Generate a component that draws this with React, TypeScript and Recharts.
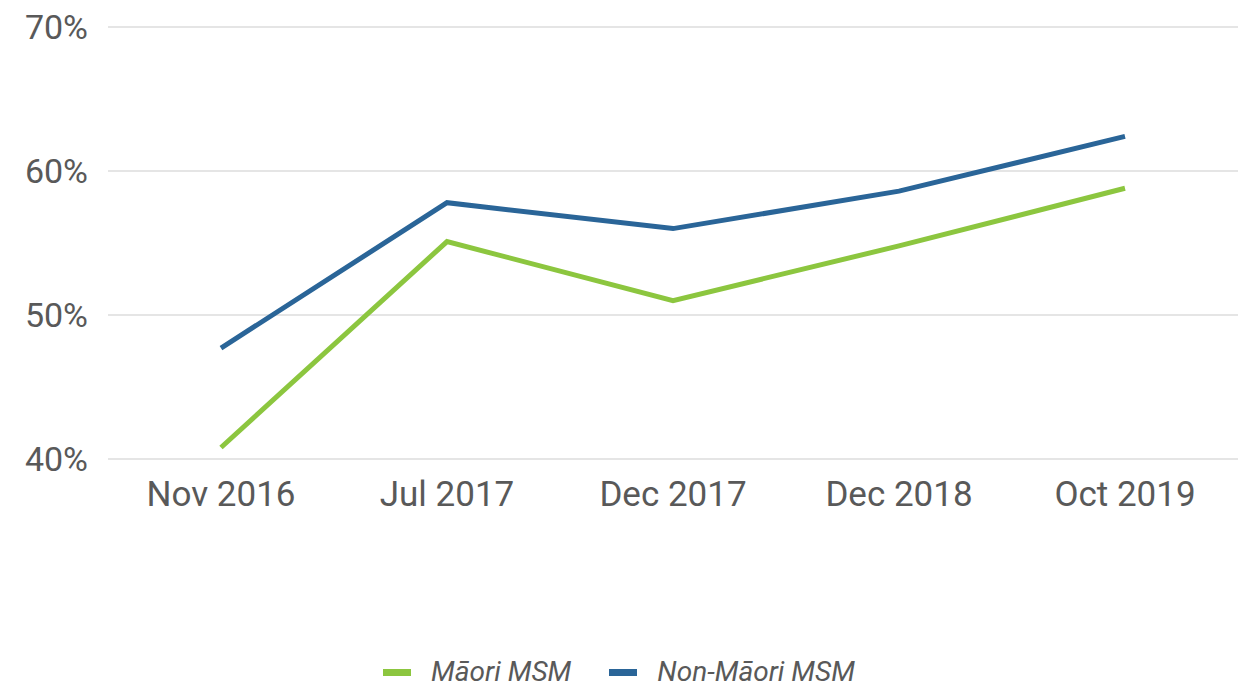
import { LineChart, Line, XAxis, YAxis, CartesianGrid, Legend } from 'recharts'

const periods = ['Nov 2016', 'Jul 2017', 'Dec 2017', 'Dec 2018', 'Oct 2019']
const maoriMsm = [40.8, 55.1, 51.0, 54.8, 58.8]
const nonMaoriMsm = [47.7, 57.8, 56.0, 58.6, 62.4]
const yTicks = [40, 50, 60, 70]

const data = periods.map((period, i) => ({
  period,
  maori: maoriMsm[i],
  nonMaori: nonMaoriMsm[i],
}))

const GREEN = '#8cc63f'
const BLUE = '#2a6598'
const TEXT = '#595959'

function LegendContent(props: any) {
  const items = props.payload || []
  return (
    <div
      style={{
        display: 'flex',
        justifyContent: 'center',
        alignItems: 'center',
        height: 26,
        lineHeight: '26px',
        fontFamily: 'Roboto',
        fontStyle: 'italic',
        fontSize: 28,
        color: TEXT,
      }}
    >
      {items.map((item: any, i: number) => (
        <div
          key={item.value}
          style={{ display: 'flex', alignItems: 'center', marginRight: i < items.length - 1 ? 38 : 0 }}
        >
          <span style={{ display: 'inline-block', width: 28, height: 7, background: item.color, marginRight: 20 }} />
          <span>{item.value}</span>
        </div>
      ))}
    </div>
  )
}

export default function App() {
  return (
    <div style={{ position: 'absolute', left: 0, top: 0, background: '#fff' }}>
      <LineChart width={1238} height={690} data={data} margin={{ top: 27, right: 0, bottom: 5, left: 0 }}>
        <CartesianGrid horizontal vertical={false} stroke="#e5e5e5" strokeWidth={2} />
        <XAxis
          dataKey="period"
          axisLine={false}
          tickLine={false}
          tickSize={0}
          tickMargin={22}
          height={200}
          padding={{ left: 113, right: 113 }}
          interval={0}
          tick={{ fill: TEXT, fontSize: 35, fontFamily: 'Roboto' }}
        />
        <YAxis
          domain={[40, 70]}
          ticks={yTicks}
          axisLine={false}
          tickLine={false}
          tickSize={0}
          tickMargin={20}
          width={108}
          tickFormatter={(v: number) => `${v}%`}
          tick={{ fill: TEXT, fontSize: 34, fontFamily: 'Roboto' }}
        />
        <Legend verticalAlign="bottom" content={<LegendContent />} />
        <Line
          type="linear"
          dataKey="maori"
          name="Māori MSM"
          stroke={GREEN}
          strokeWidth={5}
          dot={false}
          activeDot={false}
          isAnimationActive={false}
        />
        <Line
          type="linear"
          dataKey="nonMaori"
          name="Non-Māori MSM"
          stroke={BLUE}
          strokeWidth={5}
          dot={false}
          activeDot={false}
          isAnimationActive={false}
        />
      </LineChart>
    </div>
  )
}
